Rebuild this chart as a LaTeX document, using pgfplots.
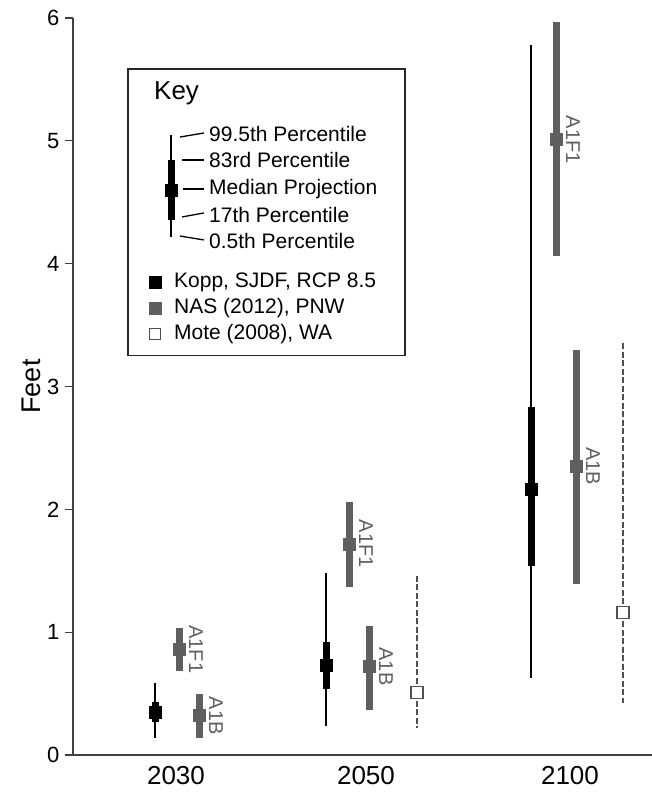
\documentclass[border=0pt]{standalone}
\usepackage{pgfplots}
\usepackage{pgfplotstable}
\pgfplotsset{compat=1.18}
\usepackage{fontspec}
\setmainfont{Liberation Sans}
\definecolor{nasgray}{RGB}{95,95,95}
\definecolor{motegray}{RGB}{80,80,80}
\definecolor{axgray}{RGB}{64,64,64}

% Kopp, SJDF, RCP 8.5: 0.5th, 17th, median, 83rd, 99.5th percentiles (feet)
\pgfplotstableread{
x lo p17 med p83 hi
155 0.14 0.27 0.35 0.43 0.59
326 0.24 0.54 0.73 0.92 1.48
531 0.63 1.54 2.16 2.83 5.78
}\kopp
% NAS (2012), PNW
\pgfplotstableread{
x lo med hi lab
179 0.68 0.86 1.03 A1F1
199 0.14 0.32 0.50 A1B
349 1.37 1.72 2.06 A1F1
369 0.37 0.72 1.05 A1B
556 4.06 5.01 5.97 A1F1
576 1.39 2.35 3.30 A1B
}\nas
% Mote (2008), WA
\pgfplotstableread{
x lo med hi
417 0.22 0.51 1.46
623 0.42 1.16 3.36
}\mote

\begin{document}
\begin{tikzpicture}
\useasboundingbox (-73pt,-38pt) rectangle (579pt,755pt);
\begin{axis}[
  at={(0pt,0pt)}, anchor=south west,
  scale only axis, width=579pt, height=737pt,
  xmin=73, xmax=652, ymin=0, ymax=6,
  clip=false,
  axis x line=bottom, axis y line=left,
  axis line style={-, draw=axgray, line width=1.1pt},
  ytick={0,1,2,3,4,5,6},
  xtick={176,366,570}, xticklabels={2030,2050,2100},
  tick align=outside, major tick length=8pt,
  ytick style={draw=axgray, line width=1.1pt},
  xtick style={draw=none},
  /pgf/number format/assume math mode=true,
  yticklabel style={font=\fontsize{22}{22}\selectfont, xshift=-2pt},
  xticklabel style={font=\fontsize{26}{26}\selectfont},
  ylabel={Feet},
  ylabel style={font=\fontsize{27}{27}\selectfont, at={(axis description cs:-0.0725,0.5)}, anchor=center},
]
% Kopp whiskers (0.5th-99.5th)
\addplot[only marks, mark=none, forget plot,
  error bars/.cd, y dir=both, y explicit, error mark=none,
  error bar style={draw=black, line width=2.2pt}]
  table[x=x, y=med, y error plus expr=\thisrow{hi}-\thisrow{med}, y error minus expr=\thisrow{med}-\thisrow{lo}] {\kopp};
% Kopp boxes (17th-83rd)
\addplot[only marks, mark=none, forget plot,
  error bars/.cd, y dir=both, y explicit, error mark=none,
  error bar style={draw=black, line width=7pt}]
  table[x=x, y=med, y error plus expr=\thisrow{p83}-\thisrow{med}, y error minus expr=\thisrow{med}-\thisrow{p17}] {\kopp};
\addplot[only marks, mark=square*, mark size=6pt, draw=black, fill=black, forget plot]
  table[x=x, y=med] {\kopp};
% NAS bars
\addplot[only marks, mark=none, forget plot,
  error bars/.cd, y dir=both, y explicit, error mark=none,
  error bar style={draw=nasgray, line width=7pt}]
  table[x=x, y=med, y error plus expr=\thisrow{hi}-\thisrow{med}, y error minus expr=\thisrow{med}-\thisrow{lo}] {\nas};
\addplot[only marks, mark=square*, mark size=6pt, draw=nasgray, fill=nasgray, forget plot,
  nodes near coords, point meta=explicit symbolic,
  nodes near coords style={rotate=-90, anchor=south, inner sep=10pt, text=nasgray, font=\fontsize{20}{20}\selectfont}]
  table[x=x, y=med, meta=lab] {\nas};
% Mote dashed ranges
\addplot[only marks, mark=none, forget plot,
  error bars/.cd, y dir=both, y explicit, error mark=none,
  error bar style={draw=motegray, line width=2pt, dash pattern=on 6pt off 2.5pt}]
  table[x=x, y=med, y error plus expr=\thisrow{hi}-\thisrow{med}, y error minus expr=\thisrow{med}-\thisrow{lo}] {\mote};
\addplot[only marks, mark=square*, mark size=6pt, draw=motegray, fill=white, line width=1.3pt, forget plot]
  table[x=x, y=med] {\mote};

% ---- Key ----
\draw[draw=black!85, line width=1.3pt] (axis cs:128,5.585) rectangle (axis cs:405,3.25);
\node[anchor=west, inner sep=0pt, font=\fontsize{26}{26}\selectfont] at (axis cs:154,5.389) {Key};
\addplot[black, line width=2.2pt, forget plot] coordinates {(171,4.217) (171,5.047)};
\addplot[black, line width=7pt, forget plot] coordinates {(171,4.355) (171,4.844)};
\addplot[only marks, mark=square*, mark size=6pt, black, forget plot] coordinates {(171,4.600)};
\draw[line width=1.3pt] (axis cs:180,5.031) -- (axis cs:204,5.064);
\draw[line width=1.3pt] (axis cs:182,4.844) -- (axis cs:204,4.844);
\draw[line width=1.3pt] (axis cs:183,4.608) -- (axis cs:204,4.608);
\draw[line width=1.3pt] (axis cs:182,4.380) -- (axis cs:204,4.413);
\draw[line width=1.3pt] (axis cs:180,4.225) -- (axis cs:204,4.193);
\begin{scope}[every node/.style={anchor=west, inner sep=0pt, font=\fontsize{21}{21}\selectfont}]
\node at (axis cs:209,5.056) {99.5th Percentile};
\node at (axis cs:209,4.844) {83rd Percentile};
\node at (axis cs:209,4.608) {Median Projection};
\node at (axis cs:209,4.396) {17th Percentile};
\node at (axis cs:209,4.185) {0.5th Percentile};
\node at (axis cs:174,3.851) {Kopp, SJDF, RCP 8.5};
\node at (axis cs:174,3.639) {NAS (2012), PNW};
\node at (axis cs:174,3.427) {Mote (2008), WA};
\end{scope}
\addplot[only marks, mark=square*, mark size=6pt, black, forget plot] coordinates {(155,3.851)};
\addplot[only marks, mark=square*, mark size=6pt, draw=nasgray, fill=nasgray, forget plot] coordinates {(155,3.639)};
\addplot[only marks, mark=square*, mark size=5.5pt, draw=motegray, fill=white, line width=1.3pt, forget plot] coordinates {(155,3.427)};
\end{axis}
\end{tikzpicture}
\end{document}
